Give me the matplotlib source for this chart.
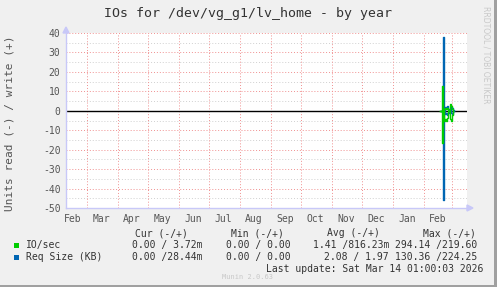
import datetime as dt
import matplotlib
matplotlib.use('Agg')
import matplotlib.pyplot as plt
from matplotlib.patches import Rectangle, Polygon

W, H = 497, 287

# data (daily samples, only the last weeks carry values)
dates = ['2026-02-18', '2026-02-19', '2026-02-20', '2026-02-21', '2026-02-22',
         '2026-02-23', '2026-02-24', '2026-02-25', '2026-02-26', '2026-02-27',
         '2026-02-28', '2026-03-01', '2026-03-02', '2026-03-03']
iops_write = [0, 0, 12.5, 0, 1.0, 1.5, 0.8, 1.5, 0.5, 0.5, 3.5, 2.5, 0.8, 0]
iops_read = [0, 0, -16.5, 0, -5.0, -4.0, -5.0, -3.5, 0, 0, -4.0, -5.0, -2.0, 0]
req_write = [0, 0, 38.0, 0, 2.0, 1.5, 2.5, 1.0, 0, 0, 2.0, 1.5, 0.5, 0]
req_read = [0, 0, -46.0, 0, -1.5, -1.0, -2.0, -1.0, 0, 0, -1.0, -1.5, 0, 0]

months = ['Feb', 'Mar', 'Apr', 'May', 'Jun', 'Jul', 'Aug', 'Sep', 'Oct',
          'Nov', 'Dec', 'Jan', 'Feb']
yticks = [40, 30, 20, 10, 0, -10, -20, -30, -40, -50]

legend_names = ['IO/sec', 'Req Size (KB)']
legend_colors = ['#00CC00', '#0066B3']
cur_vals = ['0.00 / 3.72m', '0.00 /28.44m']
min_vals = ['0.00 / 0.00', '0.00 / 0.00']
avg_vals = ['1.41 /816.23m', '2.08 / 1.97']
max_vals = ['294.14 /219.60', '130.36 /224.25']

mono = 'DejaVu Sans Mono'
txt = '#333333'


def fx(x):
    return x / W


def fy(y):
    return 1 - y / H


fig = plt.figure(figsize=(W / 100, H / 100), dpi=100, facecolor='#F0F0F0')
ax = fig.add_axes([fx(66), fy(208), fx(467) - fx(66), fy(33) - fy(208)])
ax.set_facecolor('white')

x0 = dt.datetime(2025, 2, 8)
x1 = dt.datetime(2026, 3, 16)
ax.set_xlim(x0, x1)
ax.set_ylim(-50, 40)

# grid
for y in range(-45, 40, 10):
    ax.axhline(y, color='#D0D0D0', lw=0.7, ls=(0, (1, 2)), zorder=1)
for y in yticks:
    ax.axhline(y, color='#F09090', lw=0.7, ls=(0, (1, 2)), zorder=1)
month_starts = [dt.datetime(2025 + (m // 12), m % 12 + 1, 1) for m in range(2, 15)]
for d in month_starts:
    ax.axvline(d, color='#F09090', lw=0.7, ls=(0, (1, 2)), zorder=1)

ax.axhline(0, color='black', lw=1, zorder=2)

xd = [dt.datetime.strptime(s, '%Y-%m-%d') for s in dates]
xg = [d - dt.timedelta(hours=14) for d in xd]
ax.plot(xd, req_write, color=legend_colors[1], lw=1, drawstyle='steps-mid', zorder=3)
ax.plot(xd, req_read, color=legend_colors[1], lw=1, drawstyle='steps-mid', zorder=3)
ax.plot(xg, iops_write, color=legend_colors[0], lw=1, drawstyle='steps-mid', zorder=4)
ax.plot(xg, iops_read, color=legend_colors[0], lw=1, drawstyle='steps-mid', zorder=4)

for s in ax.spines.values():
    s.set_visible(False)

mid_months = [dt.datetime(2025 + (m // 12), m % 12 + 1, 15) for m in range(1, 14)]
ax.set_xticks(mid_months)
ax.set_xticklabels(months, family=mono, fontsize=7, color='#555555')
ax.set_yticks(yticks)
ax.set_yticklabels([str(v) for v in yticks], family=mono, fontsize=7, color='#555555')
ax.tick_params(length=0, pad=4)

# axis lines with arrows
axc = '#C8C8F8'
fig.add_artist(plt.Line2D([fx(66), fx(66)], [fy(208), fy(32)], color=axc, lw=1))
fig.add_artist(plt.Line2D([fx(66), fx(468)], [fy(208), fy(208)], color=axc, lw=1))
fig.add_artist(Polygon([[fx(63), fy(33)], [fx(69), fy(33)], [fx(66), fy(27)]],
                       closed=True, color=axc))
fig.add_artist(Polygon([[fx(467), fy(205)], [fx(467), fy(211)], [fx(473), fy(208)]],
                       closed=True, color=axc))

# frame
fig.add_artist(Rectangle((fx(494), 0), 1 - fx(494), 1, color='#A0A0A0', lw=0))
fig.add_artist(Rectangle((0, 0), 1, fy(285), color='#A0A0A0', lw=0))

fig.text(fx(248), fy(14), 'IOs for /dev/vg_g1/lv_home - by year', family=mono,
         fontsize=9.5, color=txt, ha='center', va='center')
fig.text(fx(10), fy(123), 'Units read (-) / write (+)', family=mono, fontsize=8,
         color='#555555', rotation=90, ha='center', va='center')
fig.text(fx(486), fy(6), 'RRDTOOL / TOBI OETIKER', family='DejaVu Sans', fontsize=5.5,
         color='#C8C8C8', rotation=270, ha='center', va='top')

# legend table
fig.text(fx(135), fy(233), 'Cur (-/+)', family=mono, fontsize=7, color=txt, va='center')
fig.text(fx(231), fy(233), 'Min (-/+)', family=mono, fontsize=7, color=txt, va='center')
fig.text(fx(327), fy(233), 'Avg (-/+)', family=mono, fontsize=7, color=txt, va='center')
fig.text(fx(423), fy(233), 'Max (-/+)', family=mono, fontsize=7, color=txt, va='center')

rows_y = [245, 257]
for i, y in enumerate(rows_y):
    fig.add_artist(Rectangle((fx(14), fy(y + 3)), fx(5), fy(0) - fy(5),
                             color=legend_colors[i], lw=0))
    fig.text(fx(26), fy(y), legend_names[i], family=mono, fontsize=7, color=txt, va='center')
    fig.text(fx(203), fy(y), cur_vals[i], family=mono, fontsize=7,
             color=txt, va='center', ha='right')
    fig.text(fx(291), fy(y), min_vals[i], family=mono, fontsize=7,
             color=txt, va='center', ha='right')
    fig.text(fx(389), fy(y), avg_vals[i], family=mono, fontsize=7,
             color=txt, va='center', ha='right')
    fig.text(fx(477), fy(y), max_vals[i], family=mono, fontsize=7,
             color=txt, va='center', ha='right')

fig.text(fx(483), fy(269), 'Last update: Sat Mar 14 01:00:03 2026', family=mono,
         fontsize=7, color=txt, va='center', ha='right')
fig.text(fx(248), fy(277), 'Munin 2.0.63', family=mono, fontsize=5, color='#C8C8C8',
         va='center', ha='center')

fig.savefig('out.png', dpi=100, facecolor=fig.get_facecolor())
